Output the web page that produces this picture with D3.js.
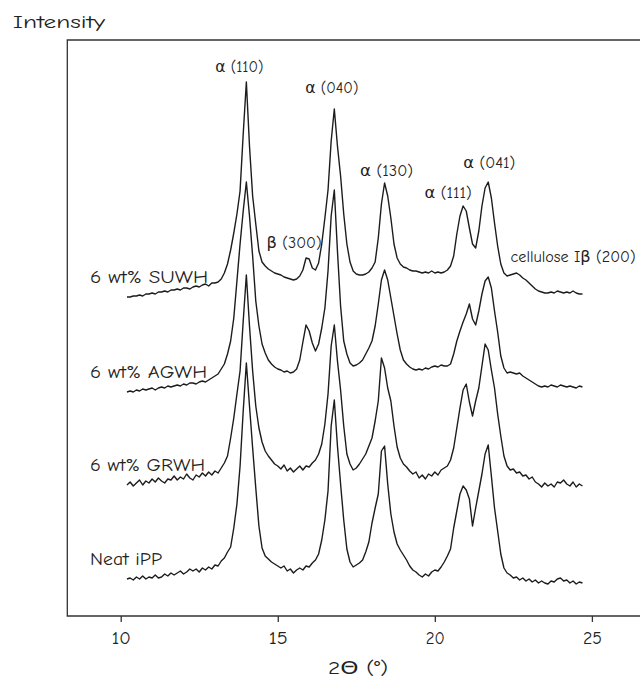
<!DOCTYPE html>
<html>
<head>
<meta charset="utf-8">
<script src="https://cdn.jsdelivr.net/npm/d3@7"></script>
<style>
  body { margin: 0; background: #fff; }
  text { font-family: "Comic Sans MS", "Comic Neue", "DejaVu Sans", sans-serif; fill: #222; }
</style>
</head>
<body>
<svg id="chart" width="640" height="679"></svg>
<script>
// XRD patterns, 2θ sampled from 10.2° to 24.7° in 0.1° steps (stacked, arbitrary intensity units)
const thetaStart = 10.2;
const thetaStep = 0.1;

const suwh = [
  319,319,320,320,321,320,322,322,323,322,
  324,324,325,324,326,326,327,326,328,328,
  327,329,330,329,331,332,330,333,333,334,
  337,343,352,366,383,402,425,482,534,470,
  420,392,365,354,350,347,345,343,342,341,
  339,338,337,336,337,340,346,358,357,348,
  346,353,372,398,426,475,507,470,440,402,
  372,354,345,342,341,341,342,344,348,354,
  378,412,433,420,398,372,358,352,349,348,
  346,345,345,344,343,344,343,345,343,344,
  343,344,346,350,360,382,400,410,405,388,
  372,368,385,410,428,434,418,393,370,352,
  343,340,341,342,343,341,338,336,333,330,
  327,325,324,323,323,324,323,325,324,323,
  324,323,325,323,322,322
];

const agwh = [
  224,225,224,226,225,227,226,227,228,226,
  228,229,228,230,229,230,231,230,232,231,
  233,233,232,234,235,234,236,238,240,242,
  247,252,262,275,298,335,372,405,434,400,
  360,315,290,272,263,256,252,249,247,246,
  244,245,243,244,247,256,274,291,285,273,
  265,272,288,308,345,400,426,365,310,275,
  262,253,250,251,253,256,262,268,275,290,
  312,336,346,336,318,300,282,266,256,252,
  249,247,246,247,246,248,247,249,250,249,
  251,250,250,252,262,275,285,294,302,312,
  297,291,305,322,335,339,328,305,284,260,
  248,243,244,243,242,243,240,238,236,234,
  232,230,229,230,229,231,230,229,231,230,
  229,230,229,228,230,229
];

const grwh = [
  131,134,130,133,136,131,135,133,137,134,
  138,135,133,137,136,140,136,139,137,142,
  138,136,141,139,143,140,144,141,145,143,
  148,153,160,178,198,222,245,295,341,290,
  245,210,188,174,165,160,156,152,150,147,
  151,145,148,144,147,150,146,150,149,153,
  156,162,172,192,222,270,291,255,226,190,
  162,152,146,148,152,157,162,170,178,195,
  215,258,248,228,215,190,169,158,152,149,
  145,142,144,138,141,137,142,140,144,141,
  146,148,150,156,168,188,208,226,232,214,
  200,215,228,250,272,266,246,228,202,180,
  160,150,146,147,143,144,140,141,137,139,
  134,132,129,133,130,132,129,134,133,136,
  132,130,134,129,132,130
];

const neat = [
  37,38,36,39,37,40,37,39,38,41,
  38,39,42,40,43,41,43,45,42,44,
  47,45,47,44,48,46,49,47,51,50,
  55,58,64,69,88,112,150,205,253,210,
  168,128,90,68,60,57,54,52,50,48,
  50,45,47,43,46,48,46,50,49,53,
  56,62,76,96,125,190,216,170,132,96,
  67,54,49,51,53,56,64,74,93,108,
  122,165,170,132,102,84,72,66,61,56,
  50,46,44,41,39,42,40,44,46,45,
  49,54,60,67,88,105,122,130,126,117,
  90,108,125,142,162,171,140,108,85,62,
  48,43,41,38,39,36,38,35,37,34,
  36,33,35,33,32,35,34,37,38,35,
  36,33,35,32,34,33
];

const seriesNames = ["6 wt% SUWH", "6 wt% AGWH", "6 wt% GRWH", "Neat iPP"];
const seriesValues = [suwh, agwh, grwh, neat];

// reflections marked on the top pattern
const peakNames = ["α (110)", "β (300)", "α (040)", "α (130)", "α (111)", "α (041)", "cellulose Iβ (200)"];
const peakTheta = [14.0, 15.9, 16.8, 18.4, 20.9, 21.7, 22.6];

const xTicks = [10, 15, 20, 25];
const xTitle = "2Θ (°)";
const yTitle = "Intensity";

// ---- layout ----
const svg = d3.select("#chart");
const frame = { left: 67.3, top: 40, bottom: 616, right: 661 };

const x = d3.scaleLinear().domain([8.3, 27.2]).range([frame.left, frame.right]);
const y = d3.scaleLinear().domain([0, 576]).range([frame.bottom, frame.top]);

const thetaAt = i => thetaStart + i * thetaStep;
const indexOf = t => Math.round((t - thetaStart) / thetaStep);

// frame: left, top and bottom edges
svg.append("path")
  .attr("d", `M${frame.right},${frame.top}H${frame.left}V${frame.bottom}H${frame.right}`)
  .attr("fill", "none")
  .attr("stroke", "#333")
  .attr("stroke-width", 1.3);

// bottom axis
const xAxis = d3.axisBottom(x).tickValues(xTicks).tickSize(6).tickPadding(9).tickFormat(d3.format("d"));
const gx = svg.append("g").attr("transform", `translate(0,${frame.bottom})`).call(xAxis);
gx.select(".domain").remove();
gx.selectAll(".tick line").attr("stroke", "#333").attr("stroke-width", 1.3);
gx.selectAll(".tick text")
  .attr("font-size", 18)
  .attr("textLength", 19)
  .attr("lengthAdjust", "spacingAndGlyphs")
  .style("font-family", '"Comic Sans MS","Comic Neue","DejaVu Sans",sans-serif')
  .attr("fill", "#222");

svg.append("text")
  .attr("x", 328)
  .attr("y", 674)
  .attr("font-size", 18)
  .attr("textLength", 60)
  .attr("lengthAdjust", "spacingAndGlyphs")
  .text(xTitle);

svg.append("text")
  .attr("x", 13)
  .attr("y", 28)
  .attr("font-size", 19)
  .attr("textLength", 92)
  .attr("lengthAdjust", "spacingAndGlyphs")
  .text(yTitle);

// patterns
const line = d3.line()
  .x((d, i) => x(thetaAt(i)))
  .y(d => y(d));

svg.append("g")
  .selectAll("path")
  .data(seriesValues)
  .join("path")
  .attr("d", line)
  .attr("fill", "none")
  .attr("stroke", "#1c1c1c")
  .attr("stroke-width", 1.4)
  .attr("stroke-linejoin", "round");

// pattern names, to the left of each trace start
const nameWidths = [118, 117, 115, 72];
svg.append("g")
  .selectAll("text")
  .data(seriesNames)
  .join("text")
  .attr("x", 90)
  .attr("y", (d, i) => y(seriesValues[i][0]) - 14)
  .attr("font-size", 18)
  .attr("textLength", (d, i) => nameWidths[i])
  .attr("lengthAdjust", "spacingAndGlyphs")
  .text(d => d);

// reflection labels above the top trace
const peakOffsets = [
  { dx: -7, dy: -10, w: 48, anchor: "middle" },
  { dx: -12, dy: -10, w: 55, anchor: "middle" },
  { dx: -2.5, dy: -16, w: 53, anchor: "middle" },
  { dx: 2, dy: -7, w: 53, anchor: "middle" },
  { dx: -15, dy: -8, w: 47, anchor: "middle" },
  { dx: 1, dy: -14, w: 52, anchor: "middle" },
  { dx: -6, dy: -11, w: 125, anchor: "start" }
];

svg.append("g")
  .selectAll("text")
  .data(peakNames)
  .join("text")
  .attr("x", (d, i) => x(peakTheta[i]) + peakOffsets[i].dx - (peakOffsets[i].anchor === "middle" ? peakOffsets[i].w / 2 : 0))
  .attr("y", (d, i) => y(suwh[indexOf(peakTheta[i])]) + peakOffsets[i].dy)
  .attr("font-size", 15)
  .attr("textLength", (d, i) => peakOffsets[i].w)
  .attr("lengthAdjust", "spacingAndGlyphs")
  .text(d => d);
</script>
</body>
</html>
